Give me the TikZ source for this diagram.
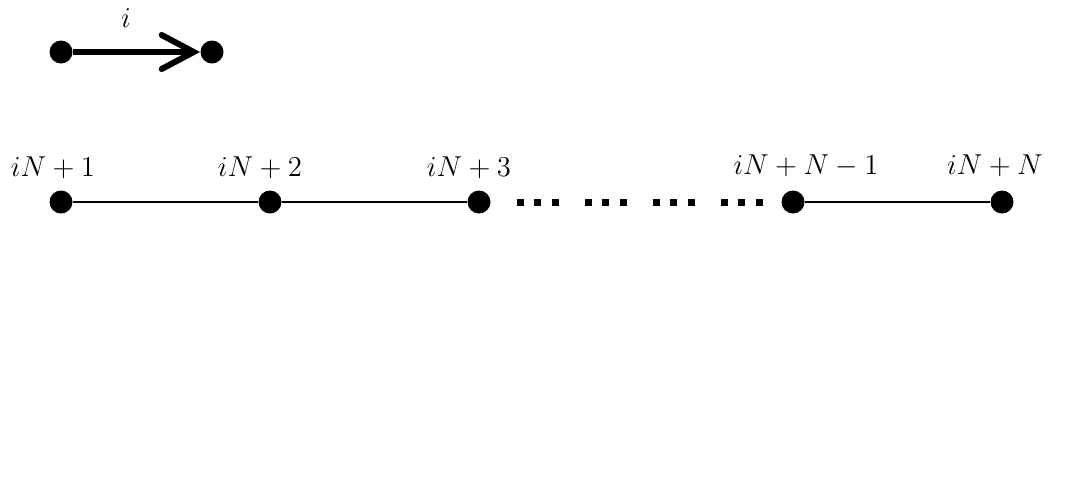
\documentclass[tikz,border=0pt]{standalone}
\usepackage{amsmath}
\usetikzlibrary{arrows.meta, positioning, calc}

\tikzset{
  dot/.style={circle, fill=black, inner sep=0pt, minimum size=11.5pt},
  lbl/.style={font=\Large},
  link/.style={line width=1pt},
  dotgap/.style={line width=3.5pt, dash pattern=on 3.5pt off 5.25pt on 3.5pt off 5.25pt on 3.5pt off 13pt}
}

\begin{document}
\begin{tikzpicture}[x=0.5pt, y=-0.5pt]
            \useasboundingbox (0,0) rectangle (1075,488);
            % direction
            \node[dot] (a1) at (61,52) {};
            \node[dot] (a2) at (212,52) {};
            \draw[-{Straight Barb[length=16pt, width=17pt, line cap=round]}, line width=3pt] (a1) -- (a2);
            \node[lbl] (ai) at (126,18) {$i$};
            % chain
            \node[dot] (n1) at (61,202) {};
            \node[dot] (n2) at (270,202) {};
            \node[dot] (n3) at (479,202) {};
            \node[dot] (n4) at (793,202) {};
            \node[dot] (n5) at (1002,202) {};
            \draw[link] (n1) -- (n2);
            \draw[link] (n2) -- (n3);
            \draw[link] (n4) -- (n5);
            \draw[dotgap] ([xshift=13pt]n3.east) -- ([xshift=-7.75pt]n4.west);
            \node[lbl] (l1) at (53,168) {$iN+1$};
            \node[lbl] (l2) at (260,168) {$iN+2$};
            \node[lbl] (l3) at (469,168) {$iN+3$};
            \node[lbl] (l4) at (806,166) {$iN+N-1$};
            \node[lbl] (l5) at (995,166) {$iN+N$};
        \end{tikzpicture}
\end{document}
